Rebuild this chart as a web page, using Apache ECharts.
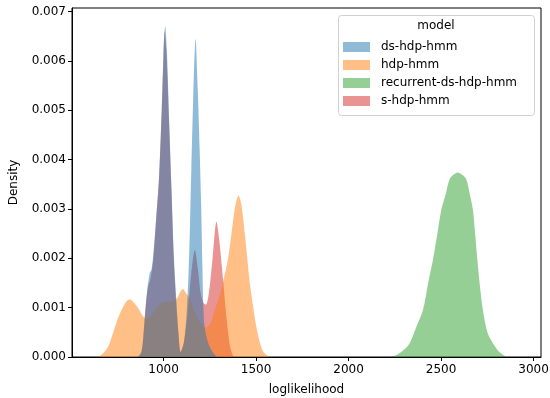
<!DOCTYPE html>
<html>
<head>
<meta charset="utf-8">
<script src="https://cdn.jsdelivr.net/npm/echarts@6/dist/echarts.min.js"></script>
<style>
  html, body { margin: 0; padding: 0; background: #fff; }
  #kde { width: 550px; height: 398px; }
</style>
</head>
<body>
<div id="kde"></div>
<script>
var models = ['ds-hdp-hmm', 'hdp-hmm', 'recurrent-ds-hdp-hmm', 's-hdp-hmm'];
var colors = ['rgba(31,119,180,0.5)', 'rgba(255,127,14,0.5)', 'rgba(44,160,44,0.5)', 'rgba(214,39,40,0.5)'];

// ds-hdp-hmm
var dsX = [860, 880, 895, 910, 925, 935, 945, 960, 975, 990, 1000, 1009, 1018, 1030, 1043, 1055, 1068, 1080, 1092,
  1110, 1125, 1135, 1143, 1150, 1160, 1173, 1185, 1195, 1203, 1210, 1215, 1222, 1240, 1265, 1290];
var dsY = [0, 0.0001, 0.0006, 0.0013, 0.0017, 0.00178, 0.0021, 0.0028, 0.0036, 0.005, 0.0062, 0.0067, 0.0062, 0.0048, 0.0034, 0.0021, 0.0012, 0.0005, 0.0001,
  0.0003, 0.0009, 0.0017, 0.0027, 0.0038, 0.0052, 0.00644, 0.0054, 0.0042, 0.0031, 0.0018, 0.001, 0.0006, 0.0003, 0.0001, 0];

// hdp-hmm
var hdpX = [650, 680, 705, 728, 755, 782, 800, 818, 840, 863, 890, 910, 935, 962, 990, 1016, 1052, 1075, 1092, 1105,
  1120, 1142, 1170, 1200, 1229, 1255, 1280, 1300, 1322, 1349, 1367, 1385, 1405, 1420, 1439, 1466, 1485, 1502, 1520, 1540, 1570];
var hdpY = [0, 0.0001, 0.00025, 0.0005, 0.0008, 0.00102, 0.00113, 0.00117, 0.0011, 0.00099, 0.00082, 0.00078, 0.00085, 0.00099, 0.0011, 0.00112, 0.00113, 0.0012, 0.00133, 0.00138,
  0.0013, 0.00118, 0.0009, 0.0007, 0.0006, 0.0007, 0.001, 0.0012, 0.00153, 0.002, 0.0025, 0.003, 0.00327, 0.0031, 0.0025, 0.0015, 0.001, 0.0006, 0.0003, 0.0001, 0];

// recurrent-ds-hdp-hmm
var recX = [2222, 2260, 2300, 2330, 2365, 2402, 2430, 2456, 2480, 2501, 2525, 2546, 2570, 2591, 2610, 2636, 2655, 2672, 2684, 2696, 2711, 2726, 2750, 2780, 2815, 2852];
var recY = [0, 0.00004, 0.00015, 0.00028, 0.0006, 0.00095, 0.0015, 0.00197, 0.0025, 0.00298, 0.0033, 0.0036, 0.0037, 0.00374, 0.0037, 0.0036, 0.0033, 0.00298, 0.0025, 0.00197, 0.0014, 0.00095, 0.0005, 0.00028, 0.0001, 0];

// s-hdp-hmm
var sX = [870, 885, 900, 915, 930, 945, 960, 975, 990, 1000, 1005, 1015, 1030, 1043, 1055, 1068, 1080, 1092,
  1110, 1130, 1150, 1169, 1185, 1200, 1215, 1229, 1245, 1265, 1286, 1300, 1322, 1340, 1360, 1378];
var sY = [0, 0.0002, 0.0009, 0.0014, 0.0016, 0.002, 0.0028, 0.0036, 0.005, 0.0061, 0.0066, 0.0062, 0.0047, 0.0033, 0.002, 0.0011, 0.0005, 0.0001,
  0.0003, 0.0009, 0.0017, 0.00217, 0.0018, 0.0013, 0.0011, 0.00106, 0.0013, 0.002, 0.00274, 0.0024, 0.00155, 0.0008, 0.0002, 0];

var xTicks = [1000, 1500, 2000, 2500, 3000];
var yTicks = [0, 0.001, 0.002, 0.003, 0.004, 0.005, 0.006, 0.007];

function pairs(xs, ys) {
  return xs.map(function (x, i) { return [x, ys[i]]; });
}

var curves = [pairs(dsX, dsY), pairs(hdpX, hdpY), pairs(recX, recY), pairs(sX, sY)];

// first model ends up on top, like seaborn's layering
var series = [];
for (var i = models.length - 1; i >= 0; i--) {
  series.push({
    name: models[i],
    type: 'line',
    data: curves[i],
    smooth: 0.3,
    showSymbol: false,
    color: colors[i],
    lineStyle: { width: 0 },
    areaStyle: { color: colors[i], opacity: 1 }
  });
}

var font = 'DejaVu Sans';
var myChart = echarts.init(document.getElementById('kde'));
option = {
  animation: false,
  grid: {
    left: 72, right: 9, top: 8, bottom: 41,
    outerBoundsMode: 'none',
    containLabel: false,
    show: true, borderColor: '#000', borderWidth: 1
  },
  xAxis: {
    type: 'value',
    min: 505,
    max: 3040,
    name: 'loglikelihood',
    nameLocation: 'middle',
    nameGap: 27,
    nameTextStyle: { fontFamily: font, fontSize: 12, color: '#000' },
    splitLine: { show: false },
    axisLine: { lineStyle: { color: '#000', width: 1 } },
    axisTick: { length: 4, lineStyle: { color: '#000' }, customValues: xTicks },
    axisLabel: {
      fontFamily: font, fontSize: 12, color: '#000', margin: 7, customValues: xTicks,
      formatter: function (v) { return String(v); }
    }
  },
  yAxis: {
    type: 'value',
    min: 0,
    max: 0.00707,
    name: 'Density',
    nameLocation: 'middle',
    nameGap: 52,
    nameTextStyle: { fontFamily: font, fontSize: 12, color: '#000' },
    splitLine: { show: false },
    axisLine: { show: true, lineStyle: { color: '#000', width: 1 } },
    axisTick: { show: true, length: 4, lineStyle: { color: '#000' }, customValues: yTicks },
    axisLabel: {
      fontFamily: font, fontSize: 12, color: '#000', margin: 6, customValues: yTicks,
      formatter: function (v) { return v.toFixed(3); }
    }
  },
  legend: {
    data: models,
    orient: 'vertical',
    left: 343,
    top: 41,
    padding: 0,
    itemWidth: 27,
    itemHeight: 10,
    itemGap: 6,
    icon: 'rect',
    textStyle: { fontFamily: font, fontSize: 12, color: '#000', padding: [0, 0, 0, 6] }
  },
  graphic: [
    {
      type: 'rect', left: 338, top: 15, z: 1,
      shape: { width: 196, height: 100, r: 3 },
      style: { fill: 'rgba(255,255,255,0.8)', stroke: '#d0d0d0', lineWidth: 1 }
    },
    {
      type: 'text', z: 2,
      style: { text: 'model', x: 436, y: 26, align: 'center', verticalAlign: 'middle', fontFamily: font, fontSize: 12, fill: '#000' }
    }
  ],
  series: series
};
myChart.setOption(option);
</script>
</body>
</html>
